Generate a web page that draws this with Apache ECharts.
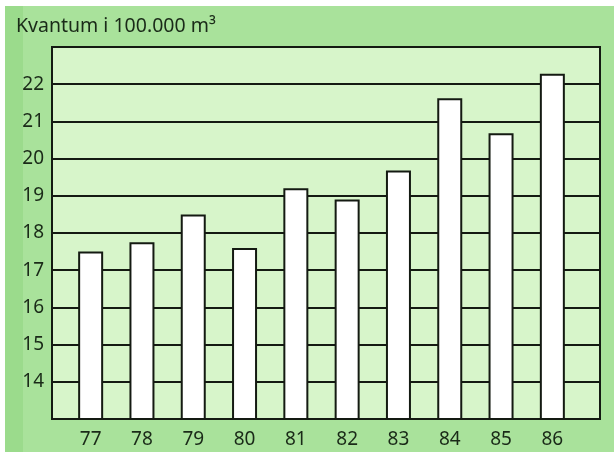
<!DOCTYPE html>
<html><head><meta charset="utf-8">
<script src="https://cdn.jsdelivr.net/npm/echarts@6/dist/echarts.min.js"></script>
<style>html,body{margin:0;padding:0;background:#fff}#c{width:614px;height:452px}</style>
</head><body><div id="c"></div>
<script>
const categories = ['77','78','79','80','81','82','83','84','85','86'];
const values = [17.5, 17.75, 18.5, 17.6, 19.2, 18.9, 19.68, 21.62, 20.68, 22.28];
const yMin = 13, yMax = 23, yStep = 1;
const titleText = 'Kvantum i 100.000 m³';

const font = '"Noto Sans", sans-serif';
const chart = echarts.init(document.getElementById('c'), null, {renderer:'canvas'});
chart.setOption({
  animation:false,
  backgroundColor:'#ffffff',
  graphic:[
    {type:'rect', z:-10, shape:{x:5,y:6,width:609,height:446}, style:{fill:'#a9e29b'}},
    {type:'rect', z:-9, shape:{x:5,y:6,width:18,height:446}, style:{fill:'#9bdb8c'}}
  ],
  title:{text:titleText, left:11, top:11, textStyle:{fontFamily:font, fontSize:19.5, fontWeight:'normal', color:'#1a2a18'}},
  grid:[
    {left:52, top:47, width:548, height:372, show:true, backgroundColor:'#d7f5ca', borderColor:'#141a12', borderWidth:2},
    {left:65, top:47, width:513, height:372}
  ],
  xAxis:[
    {gridIndex:0, type:'category', data:categories, show:false},
    {gridIndex:1, type:'category', data:categories, axisLine:{show:false}, axisTick:{show:false},
     axisLabel:{fontFamily:font, fontSize:19, color:'#1a2a18', margin:11}}
  ],
  yAxis:[
    {gridIndex:0, type:'value', min:yMin, max:yMax, interval:yStep,
     axisLine:{show:false}, axisTick:{show:false},
     axisLabel:{fontFamily:font, fontSize:19, color:'#1a2a18', margin:8,
       formatter:v => (v===yMin||v===yMax)?'':String(v)},
     splitLine:{lineStyle:{color:'#141a12', width:2}}},
    {gridIndex:1, type:'value', min:yMin, max:yMax, interval:yStep, show:false, splitLine:{show:false}}
  ],
  series:[{
    type:'bar', xAxisIndex:1, yAxisIndex:1, data:values, barWidth:25,
    itemStyle:{color:'#ffffff', borderColor:'#141a12', borderWidth:2}
  }]
});
</script></body></html>
